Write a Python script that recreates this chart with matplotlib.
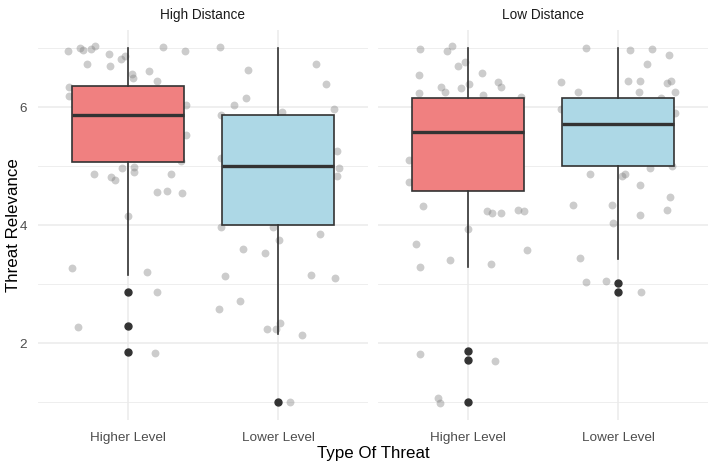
import matplotlib.pyplot as plt
import numpy as np

plt.rcParams['font.family'] = ['Liberation Sans', 'DejaVu Sans']

facets = ["High Distance", "Low Distance"]
levels = ["Higher Level", "Lower Level"]
fills = ["#F08080", "#ADD8E6"]

# box stats: (q1, median, q3, whisker low, whisker high)
box_stats = {
    ("High Distance", "Higher Level"): (5.07, 5.86, 6.36, 3.15, 7.0),
    ("High Distance", "Lower Level"): (4.0, 5.0, 5.86, 2.15, 7.0),
    ("Low Distance", "Higher Level"): (4.57, 5.58, 6.15, 3.29, 7.0),
    ("Low Distance", "Lower Level"): (5.0, 5.72, 6.15, 3.43, 7.0),
}
outliers = {
    ("High Distance", "Higher Level"): [2.86, 2.29, 1.85],
    ("High Distance", "Lower Level"): [1.0],
    ("Low Distance", "Higher Level"): [1.86, 1.72, 1.0],
    ("Low Distance", "Lower Level"): [3.01, 2.86],
}

# jittered raw points (x already jittered around 1 / 2)
hd_hi_x = [0.602, 0.68, 0.698, 0.751, 0.778, 0.873, 0.725, 0.88, 0.951, 0.98, 1.231, 1.38,
           1.025, 1.031, 1.138, 1.195, 0.605, 0.605, 1.385, 1.385, 1.351, 0.958, 1.042, 1.042,
           0.771, 0.889, 0.911, 1.285, 1.193, 1.26, 1.36, 0.998, 0.629, 1.129, 1.195, 0.665, 1.178]
hd_hi_y = [6.954, 6.995, 6.966, 6.983, 7.034, 6.893, 6.724, 6.69, 6.81, 6.87, 7.01, 6.954,
           6.554, 6.497, 6.61, 6.44, 6.334, 6.186, 6.03, 5.525, 5.09, 4.966, 4.978, 4.903,
           4.859, 4.819, 4.758, 4.87, 4.56, 4.576, 4.547, 4.153, 3.276, 3.198, 2.859, 2.276, 1.825]

hd_lo_x = [1.611, 1.8, 2.255, 2.322, 1.789, 1.707, 1.618, 2.371, 2.029, 2.391, 2.407, 2.391,
           1.62, 1.618, 1.969, 2.282, 2.007, 1.765, 1.913, 1.649, 2.222, 2.38, 1.749, 1.605,
           1.927, 1.987, 2.013, 2.162, 2.08]
hd_lo_y = [7.022, 6.622, 6.724, 6.385, 6.153, 6.039, 5.869, 5.961, 5.915, 5.254, 4.966, 4.836,
           5.131, 3.961, 3.961, 3.853, 3.746, 3.593, 3.52, 3.136, 3.158, 3.107, 2.717, 2.571,
           2.242, 2.237, 2.339, 2.131, 1.005]

ld_hi_x = [0.68, 0.858, 0.891, 0.98, 0.931, 0.673, 1.093, 0.818, 0.847, 0.951, 1.009, 1.2,
           1.22, 0.671, 1.1, 1.355, 0.609, 0.609, 0.698, 1.125, 1.162, 1.222, 1.331, 1.371,
           0.998, 0.653, 1.395, 0.678, 0.88, 1.153, 0.682, 1.18, 0.798, 0.815]
ld_hi_y = [6.983, 6.954, 7.039, 6.763, 6.69, 6.547, 6.581, 6.339, 6.254, 6.327, 6.395, 6.419,
           6.334, 6.242, 6.208, 6.164, 5.097, 4.734, 4.322, 4.242, 4.203, 4.203, 4.249, 4.237,
           3.927, 3.678, 3.571, 3.288, 3.407, 3.334, 1.814, 1.7, 1.063, 0.983]

ld_lo_x = [1.787, 2.08, 2.227, 2.338, 2.195, 1.618, 1.733, 2.065, 2.149, 2.327, 2.351, 2.142,
           2.378, 2.285, 1.618, 2.378, 1.811, 2.025, 2.049, 2.215, 2.36, 2.149, 2.347, 1.702,
           1.96, 2.147, 2.327, 1.967, 1.749, 1.787, 1.918, 2.151]
ld_lo_y = [7.005, 6.966, 6.978, 6.881, 6.729, 6.424, 6.254, 6.436, 6.436, 6.412, 6.441, 6.254,
           6.254, 6.158, 5.961, 5.903, 4.869, 4.831, 4.869, 4.961, 5.005, 4.678, 4.475, 4.334,
           4.339, 4.175, 4.249, 4.029, 3.446, 3.029, 3.051, 2.864]

points = {
    "High Distance": (hd_hi_x + hd_lo_x, hd_hi_y + hd_lo_y),
    "Low Distance": (ld_hi_x + ld_lo_x, ld_hi_y + ld_lo_y),
}

fig = plt.figure(figsize=(7.09, 4.65), dpi=100)
bottom, height = 0.0974, 0.8374
ax1 = fig.add_axes([0.0536, bottom, 0.4654, height])
ax2 = fig.add_axes([0.5331, bottom, 0.4654, height], sharey=ax1)

for ax, facet in zip([ax1, ax2], facets):
    # grid like theme_minimal
    for v in [1, 3, 5, 7]:
        ax.axhline(v, color="#EBEBEB", lw=0.6, zorder=0)
    for v in [2, 4, 6]:
        ax.axhline(v, color="#EBEBEB", lw=1.1, zorder=0)
    for v in [1, 2]:
        ax.axvline(v, color="#EBEBEB", lw=1.1, zorder=0)

    px, py = points[facet]
    ax.scatter(px, py, s=32, color="gray", alpha=0.4, linewidths=0, zorder=1)

    stats = []
    for lev in levels:
        q1, med, q3, lo, hi = box_stats[(facet, lev)]
        stats.append(dict(q1=q1, med=med, q3=q3, whislo=lo, whishi=hi,
                          fliers=outliers[(facet, lev)], label=lev))
    bp = ax.bxp(stats, positions=[1, 2], widths=0.75, patch_artist=True,
                boxprops=dict(edgecolor="#333333", linewidth=1.2),
                whiskerprops=dict(color="#333333", linewidth=1.2),
                capprops=dict(linewidth=0),
                medianprops=dict(color="#333333", linewidth=2.4),
                flierprops=dict(marker="o", markerfacecolor="#333333",
                                markeredgecolor="#333333", markersize=5),
                zorder=2)
    for patch, c in zip(bp["boxes"], fills):
        patch.set_facecolor(c)
    for cap in bp["caps"]:
        cap.set_visible(False)

    ax.set_xlim(0.4, 2.6)
    ax.set_ylim(0.7, 7.3)
    ax.set_xticks([1, 2])
    ax.set_xticklabels(levels, fontsize=9.7, color="#4D4D4D")
    ax.set_yticks([2, 4, 6])
    ax.tick_params(axis="x", length=0, labelsize=9.7, labelcolor="#4D4D4D", pad=9)
    ax.tick_params(axis="y", length=0, labelsize=9.7, labelcolor="#4D4D4D", pad=8)
    for s in ax.spines.values():
        s.set_visible(False)
    ax.set_title(facet, fontsize=9.8, color="#1A1A1A", pad=8)

ax2.tick_params(labelleft=False)
ax1.set_ylabel("Threat Relevance", fontsize=12.2, labelpad=-1)
fig.text(0.5263, 0.024, "Type Of Threat", fontsize=12.2, ha="center", va="center")

fig.savefig("out.png", dpi=100)
